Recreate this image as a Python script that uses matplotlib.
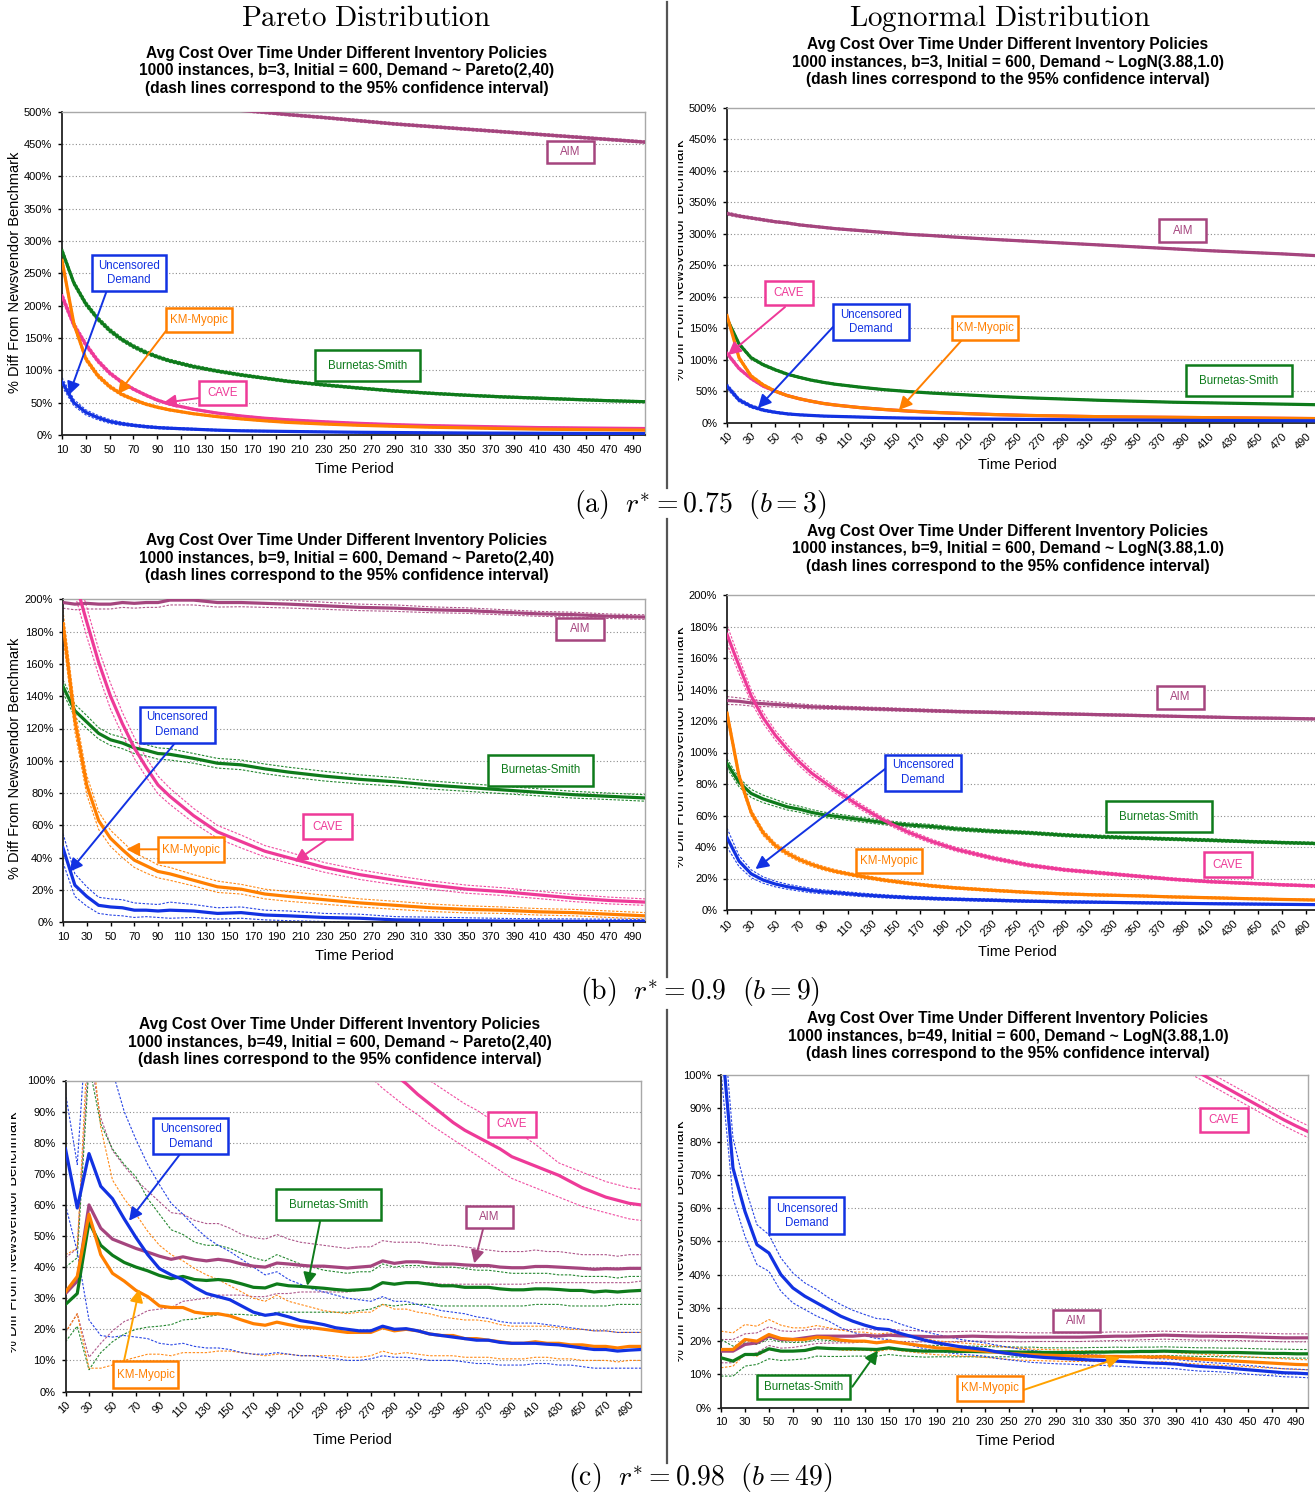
import numpy as np
import matplotlib
matplotlib.use('Agg')
import matplotlib.pyplot as plt
from matplotlib.path import Path
from matplotlib.lines import Line2D
from matplotlib.transforms import Bbox, TransformedBbox

plt.rcParams['font.family'] = ['Liberation Sans', 'DejaVu Sans']
plt.rcParams['mathtext.fontset'] = 'cm'

# ---------------------------------------------------------------- data
# coarse time grid used for the smooth panels (a), (b)
XS = [10, 20, 30, 40, 50, 60, 70, 80, 90, 100, 120, 140, 160, 180, 200,
      230, 260, 290, 320, 350, 380, 410, 440, 470, 500]
# full time grid used for panels (c)
XF = [10, 20, 30, 40, 50, 60, 70, 80, 90, 100, 110, 120, 130, 140, 150, 160, 170,
      180, 190, 200, 210, 220, 230, 240, 250, 260, 270, 280, 290, 300, 310, 320,
      330, 340, 350, 360, 370, 380, 390, 400, 410, 420, 430, 440, 450, 460, 470,
      480, 490, 500]
XTICKS = [10, 30, 50, 70, 90, 110, 130, 150, 170, 190, 210, 230, 250, 270, 290,
          310, 330, 350, 370, 390, 410, 430, 450, 470, 490]

# Panel 1: Pareto, b=3  (mean, CI half width)
P1_AIM = [None] * 12 + [502, 499, 495.5, 491, 486, 481, 477, 473, 469, 465, 461, 457, 453]
P1_AIM_CI = [None] * 12 + [2, 2, 2, 2, 2, 2, 2, 2, 2, 2, 2, 2, 2]
P1_BS = [285, 235, 203, 180, 162, 148, 137, 128, 121, 115, 106, 99, 93, 88, 83,
         77.5, 72.5, 68, 64.5, 61.5, 59, 57, 55, 53, 51.5]
P1_BS_CI = [5, 4, 4, 3.5, 3.5, 3, 3, 3, 2.5, 2.5, 2.5, 2.2, 2.2, 2, 2, 2, 1.8,
            1.8, 1.8, 1.7, 1.7, 1.6, 1.6, 1.5, 1.5]
P1_CAVE = [215, 170, 140, 115, 96, 82, 71, 62, 54, 48, 40, 34, 29.5, 26, 23.5,
           20.5, 18, 16, 14.5, 13.5, 12.5, 11.5, 11, 10.5, 10]
P1_CAVE_CI = [6, 5, 4, 3.5, 3, 2.5, 2.2, 2, 1.8, 1.6, 1.4, 1.2, 1.1, 1, 1, 0.9,
              0.8, 0.8, 0.7, 0.7, 0.6, 0.6, 0.6, 0.5, 0.5]
P1_KM = [270, 172, 118, 92, 75, 63, 55, 48, 43, 39, 33, 28.5, 25, 22, 19.5, 17,
         15, 13.5, 12, 11, 10, 9, 8.5, 8, 7.5]
P1_KM_CI = [6, 5, 4, 3.5, 3, 2.5, 2.2, 2, 1.8, 1.6, 1.4, 1.2, 1.1, 1, 1, 0.9,
            0.8, 0.8, 0.7, 0.7, 0.6, 0.6, 0.6, 0.5, 0.5]
P1_UNC = [82, 50, 35, 27, 21, 17.5, 15, 13, 11.5, 10.5, 9, 7.5, 6.5, 6, 5.5, 4.8,
          4.2, 3.8, 3.4, 3.1, 2.9, 2.7, 2.5, 2.3, 2.2]
P1_UNC_CI = [7, 5, 4, 3.5, 3, 2.5, 2, 2, 1.8, 1.6, 1.4, 1.2, 1, 1, 0.9, 0.8, 0.8,
             0.7, 0.7, 0.6, 0.6, 0.6, 0.5, 0.5, 0.5]

# Panel 2: Lognormal, b=3
P2_AIM = [332, 328, 325, 322, 319, 317, 314, 312, 310, 308, 305, 302, 299, 297,
          294.5, 291, 288, 285, 282, 279, 276, 273, 270.5, 268, 265]
P2_AIM_CI = [2.5, 2.2, 2, 2, 1.8, 1.8, 1.6, 1.6, 1.5, 1.5, 1.5, 1.4, 1.4, 1.4,
             1.3, 1.3, 1.3, 1.2, 1.2, 1.2, 1.2, 1.2, 1.1, 1.1, 1.1]
P2_BS = [165, 125, 103, 92, 84, 77, 72, 67.5, 64, 61, 56.5, 52.5, 49.5, 47, 45,
         42, 39.5, 37.5, 35.5, 34, 32.5, 31.5, 30.5, 29.5, 28.5]
P2_BS_CI = [3, 2.5, 2.2, 2, 1.8, 1.7, 1.6, 1.5, 1.4, 1.3, 1.2, 1.1, 1.1, 1, 1,
            0.9, 0.9, 0.9, 0.8, 0.8, 0.8, 0.8, 0.7, 0.7, 0.7]
P2_CAVE = [110, 86, 70, 58, 50, 43, 38, 34, 30.5, 28, 24, 21, 18.5, 16.5, 15, 13,
           11.5, 10.5, 9.5, 9, 8.5, 8, 7.5, 7, 6.5]
P2_CAVE_CI = [3, 2.5, 2, 1.8, 1.6, 1.4, 1.3, 1.2, 1.1, 1, 0.9, 0.8, 0.8, 0.7, 0.7,
              0.6, 0.6, 0.6, 0.5, 0.5, 0.5, 0.5, 0.5, 0.5, 0.5]
P2_KM = [170, 103, 74, 60, 50, 43, 38, 34, 30.5, 28, 24, 21, 18.5, 16.5, 15, 13,
         11.5, 10.5, 9.5, 9, 8.5, 8, 7.5, 7, 6.5]
P2_KM_CI = [4, 3, 2.5, 2, 1.8, 1.6, 1.4, 1.3, 1.2, 1.1, 1, 0.9, 0.8, 0.8, 0.7,
            0.7, 0.6, 0.6, 0.6, 0.5, 0.5, 0.5, 0.5, 0.5, 0.5]
P2_UNC = [58, 36, 26, 20, 16.5, 14, 12.5, 11.5, 10.5, 10, 9, 8, 7.3, 6.8, 6.3,
          5.7, 5.2, 4.8, 4.4, 4.1, 3.8, 3.6, 3.4, 3.2, 3]
P2_UNC_CI = [4, 3, 2.5, 2, 1.6, 1.4, 1.2, 1.1, 1, 1, 0.9, 0.8, 0.8, 0.7, 0.7, 0.6,
             0.6, 0.5, 0.5, 0.5, 0.5, 0.5, 0.4, 0.4, 0.4]

# Panel 3: Pareto, b=9
P3_AIM = [198, 197, 197.5, 197, 197, 198, 197.5, 198, 198, 199.5, 199.5, 198, 198,
          197.5, 197, 196, 195, 194.5, 193.5, 193, 192, 191, 190.5, 189.5, 189]
P3_AIM_CI = [3.5, 3.5, 3.5, 3, 3, 3, 3, 3, 3, 3, 3, 2.8, 2.6, 2.5, 2.4, 2.2, 2, 2,
             1.8, 1.7, 1.6, 1.5, 1.5, 1.4, 1.4]
P3_BS = [146, 131, 124, 117, 113, 111, 108, 106.5, 104.5, 104, 101.5, 98.5, 97.5,
         95, 93, 90.5, 88.5, 87, 85, 83.5, 82, 80.5, 79, 78, 77]
P3_BS_CI = [4, 4, 4, 3.5, 3.5, 3.5, 3.5, 3.5, 3.5, 3.5, 3, 3, 3, 3, 3, 3, 2.8,
            2.6, 2.5, 2.4, 2.3, 2.2, 2.1, 2, 2]
P3_CAVE = [240, 212, 186, 161, 140, 123, 108, 96, 85, 78, 66, 56, 50, 44, 40, 34,
           29.5, 26, 23, 20.5, 19, 17, 15, 13.5, 12.5]
P3_CAVE_CI = [10, 9, 9, 8, 8, 7, 6.5, 6, 5.5, 5, 4.5, 4, 4, 3.5, 3.5, 3, 3, 2.8,
              2.6, 2.5, 2.4, 2.3, 2.2, 2.1, 2]
P3_KM = [185, 125, 85, 63, 52, 45, 38.5, 35, 31.5, 30, 26, 22, 20.5, 17.5, 16, 14,
         12, 10.5, 9, 8, 7.5, 6.5, 6, 5, 4]
P3_KM_CI = [8, 7, 6, 5.5, 5, 5, 4.5, 4.5, 4, 4, 3.5, 3.5, 3, 3, 3, 2.8, 2.5, 2.5,
            2.3, 2.2, 2, 2, 2, 2, 2]
P3_UNC = [46, 23, 16, 10.5, 9.5, 9, 7.5, 7.5, 7, 7.5, 7, 5.5, 6, 4.5, 4, 3, 2.5,
          1.5, 1.2, 1, 0.8, 0.7, 0.6, 0.5, 0.5]
P3_UNC_CI = [9, 7, 6, 5, 5, 5, 4.5, 4, 4, 5, 4, 3.5, 3.5, 3, 3, 2.5, 2.5, 2, 2,
             1.8, 1.6, 1.5, 1.5, 1.4, 1.3]

# Panel 4: Lognormal, b=9
P4_AIM = [133, 132.5, 131.5, 131, 130.5, 130, 129.5, 129, 128.7, 128.5, 128, 127.5,
          127, 126.5, 126, 125.5, 125, 124.5, 124, 123.5, 123, 122.5, 122, 121.7, 121.3]
P4_AIM_CI = [2.5, 2.2, 2, 1.8, 1.6, 1.5, 1.4, 1.3, 1.2, 1.1, 1, 1, 0.9, 0.9, 0.8,
             0.8, 0.8, 0.7, 0.7, 0.7, 0.6, 0.6, 0.6, 0.6, 0.6]
P4_BS = [93, 81, 74, 70.5, 68, 65.5, 64, 62, 60.5, 59.5, 57.5, 55.5, 54, 53, 51.5,
         50, 49, 47.5, 46.5, 45.7, 45, 44.3, 43.5, 42.8, 42.2]
P4_BS_CI = [3, 2.8, 2.6, 2.4, 2.2, 2, 1.9, 1.8, 1.7, 1.6, 1.5, 1.4, 1.3, 1.3, 1.2,
            1.1, 1, 1, 1, 0.9, 0.9, 0.9, 0.8, 0.8, 0.8]
P4_CAVE = [175, 155, 136, 122, 111, 102, 94, 87, 81.5, 76, 66, 57, 49.5, 43.5,
           38.5, 33, 28.5, 25.5, 23.5, 21.5, 19.5, 18, 17, 16, 15.2]
P4_CAVE_CI = [6, 5, 4, 3.5, 3, 2.8, 2.6, 2.4, 2.2, 2, 1.8, 1.6, 1.5, 1.4, 1.3,
              1.2, 1.1, 1, 1, 0.9, 0.9, 0.8, 0.8, 0.8, 0.8]
P4_KM = [125, 85, 62, 49, 41, 36, 32, 29, 26.5, 24.5, 21.5, 19, 17, 15.3, 14, 12.5,
         11.2, 10.2, 9.5, 9, 8.3, 7.8, 7.2, 6.7, 6.3]
P4_KM_CI = [3, 2.5, 2, 1.8, 1.6, 1.5, 1.4, 1.3, 1.2, 1.1, 1, 1, 0.9, 0.9, 0.8,
            0.8, 0.7, 0.7, 0.7, 0.6, 0.6, 0.6, 0.6, 0.5, 0.5]
P4_UNC = [46, 31, 23, 19, 16.5, 14.8, 13.5, 12.3, 11.5, 11, 9.7, 8.7, 7.9, 7.3,
          6.8, 6.2, 5.6, 5.2, 4.9, 4.6, 4.3, 4, 3.8, 3.6, 3.4]
P4_UNC_CI = [6, 3.5, 2.5, 2, 1.8, 1.6, 1.5, 1.4, 1.3, 1.2, 1.1, 1, 0.9, 0.9, 0.8,
             0.8, 0.7, 0.7, 0.6, 0.6, 0.6, 0.5, 0.5, 0.5, 0.5]

# Panel 5: Pareto, b=49 (mean, lower, upper)
P5_AIM = [31.5, 35.5, 60, 52.5, 49, 47.5, 46, 44.8, 43.5, 42.5, 43.3, 42.5, 42,
          42.5, 42, 41, 40.3, 40, 41.3, 41, 40.6, 40.3, 40.3, 40, 39.7, 40, 40.3,
          42, 41.2, 41.7, 41.7, 41.3, 41, 41, 40.7, 40.5, 40.5, 40, 39.8, 39.8,
          40.2, 40.2, 40, 39.8, 39.6, 39.3, 39.5, 39.4, 39.6, 39.6]
P5_AIM_LO = [19, 25, 11, 15.5, 19.5, 22.5, 24, 26, 26.5, 27, 29, 29.5, 30, 31, 31,
             31, 30.5, 30.5, 31.5, 31.5, 32, 32, 32, 32, 32, 32.5, 33, 35, 34.5,
             35, 35, 35, 34.5, 34.5, 34.5, 34.5, 34.5, 34.5, 34.5, 34.5, 35, 35,
             35, 35, 35, 35, 35, 35, 35, 35.5]
P5_AIM_HI = [43, 46, 110, 88, 77.5, 72.5, 68, 64.5, 61, 57.5, 57, 55, 54, 54, 52.5,
             50.5, 49.5, 49, 50.5, 49, 48, 47.5, 47, 46.5, 46, 46.5, 46.5, 48.5,
             48, 48, 48, 47.5, 47, 47, 46.5, 46, 45.5, 45, 45, 45, 45.5, 45, 45,
             44.5, 44, 44, 44, 43.5, 44, 44]
P5_BS = [28, 31.5, 54.5, 47, 43.8, 41.5, 40, 38.8, 37.3, 36.3, 37, 36, 35.7, 36,
         35.6, 34.6, 33.5, 33.3, 34.6, 34, 33.8, 33.5, 33.2, 32.8, 32.5, 32.7, 33,
         35, 34.5, 35, 35, 34.5, 34, 34, 33.5, 33.5, 33.5, 33, 32.7, 32.7, 33, 33,
         32.8, 32.5, 32.5, 32, 32.3, 32, 32.3, 32.5]
P5_BS_LO = [16, 21, 7, 12.5, 16, 18.5, 20, 20.7, 21, 21.5, 23, 23.3, 24, 24.7,
            24.8, 24.8, 24.5, 24.5, 25.5, 25.5, 25.5, 25.5, 25.5, 25.5, 25.5, 26,
            26.5, 28, 27.5, 28, 28, 28, 27.5, 27.5, 27.5, 27.5, 27.5, 27.5, 27.5,
            27.5, 28, 28, 28, 27.5, 27.5, 27.5, 27.5, 28, 28, 28]
P5_BS_HI = [40, 43, 105, 86, 78, 73, 69, 62, 57, 52, 50.5, 48, 47, 47, 46, 44.5,
            43, 42, 44, 42.5, 41, 40, 39, 38.5, 38, 38.5, 38.5, 41, 40, 40.5, 40.5,
            40, 40, 40, 39.5, 39, 39, 38.5, 38, 38, 38, 38, 37.5, 37.5, 37, 37, 37,
            36.5, 37, 37]
P5_CAVE = [None] * 27 + [105.5, 102, 99, 95.5, 92.5, 89.5, 86.5, 84, 82, 80, 78,
                         75.5, 74, 72.5, 71, 69.5, 67.5, 65.5, 64, 62.5, 61.5, 60.5, 60]
P5_CAVE_LO = [None] * 25 + [104, 101, 97.5, 94.5, 91.5, 89, 86, 83.5, 81, 78.5, 76,
                            73.5, 71, 68.5, 67, 65.5, 64, 62.5, 61, 59.5, 58.5,
                            57.5, 56.5, 55.5, 55]
P5_CAVE_HI = [None] * 30 + [103, 100, 97.5, 95, 92.5, 90.5, 88, 86, 84, 82, 79.5,
                            76.5, 73.5, 72, 70.5, 69, 67.5, 66.5, 65.5, 65]
P5_KM = [32, 37, 57, 44, 38, 35.5, 32.5, 30.5, 27.5, 27, 27, 25.5, 25, 25, 24.3,
         23, 21.8, 21.3, 22.3, 21.5, 20.8, 20.5, 20, 19.5, 19, 19, 19, 20.5, 19.5,
         20, 19.5, 18.5, 18, 18, 17, 17, 16.5, 16, 15.5, 15.5, 16, 15.5, 15.5, 15,
         15, 14.5, 14.5, 14, 14.5, 14.5]
P5_KM_LO = [19, 25, 7.5, 7.5, 8.5, 10, 11, 12, 12, 11.5, 12.5, 12.5, 12.5, 13, 13,
            12.5, 12, 11.5, 12, 12, 11.5, 11.5, 11.5, 11.5, 11, 11, 11.5, 13, 12,
            12.5, 12, 11.5, 11.5, 11.5, 11, 11, 11, 10.5, 10.5, 10.5, 11, 11, 10.5,
            10.5, 10, 10, 10, 9.5, 10, 10]
P5_KM_HI = [44, 46, 120, 85, 68, 62, 57, 51.5, 47, 44, 42, 39.5, 37.5, 36, 34, 32,
            30, 29, 31, 29, 28, 27, 26, 25.5, 25, 25.5, 25.5, 28, 26.5, 26.5, 25.5,
            25, 24, 23.5, 23, 23, 22.5, 21.5, 21, 21, 21, 21, 20.5, 20, 20, 19.5,
            19.5, 19, 19, 19]
P5_UNC = [78, 59, 76.5, 66, 62, 55.5, 49.5, 44, 39.5, 37.5, 36, 33.5, 31.5, 30.5,
          29.5, 27.5, 25.5, 24.5, 25, 24, 22.8, 22.2, 21.5, 20.5, 20, 19.5, 19.5,
          21, 20, 20.2, 19.5, 18.5, 18, 17.5, 17, 16.5, 16.5, 15.8, 15.5, 15.5,
          15.5, 15.2, 15, 14.5, 14, 13.5, 13.5, 13, 13.3, 13.5]
P5_UNC_LO = [60, 45, 23, 18, 17.5, 18, 17.5, 17, 15.5, 15, 15.5, 14.5, 14, 14,
             13.5, 12.5, 12, 12, 12.5, 12, 11.5, 11.5, 11, 10.5, 10, 10, 10.5, 11.5,
             11, 11, 10.5, 10, 10, 10, 9.5, 9, 9, 8.5, 8.5, 8.5, 9, 9, 8.5, 8.5, 8,
             7.5, 7.5, 7.5, 7.5, 7.5]
P5_UNC_HI = [96, 73, 130, 115, 103, 90, 81, 73, 66.5, 60.5, 57, 53, 49.5, 47, 45,
             42.5, 40, 37.5, 38.5, 36, 34.5, 33, 32, 31, 30, 29.5, 29, 30.5, 29, 29,
             28, 27, 26, 25.5, 25, 24, 23.5, 22.5, 22, 22, 22, 21.5, 21, 20.5, 20,
             19.5, 19.5, 19, 19, 19]

# Panel 6: Lognormal, b=49 (mean, CI half width)
P6_AIM = [17, 17, 19, 19.5, 21.5, 20.5, 20.5, 21, 21.5, 21.5, 21.5, 21.5, 21.8,
          21.5, 21.8, 21.6, 21.5, 21.4, 21.3, 21.3, 21.4, 21.5, 21.4, 21.3, 21.3,
          21.2, 21.2, 21.2, 21.2, 21.2, 21.2, 21.3, 21.4, 21.5, 21.5, 21.6, 21.7,
          21.8, 21.7, 21.6, 21.5, 21.5, 21.4, 21.4, 21.3, 21.2, 21.1, 21.0, 21.0, 21.0]
P6_AIM_CI = [3.5, 3.5, 3.2, 3, 2.8, 2.6, 2.4, 2.3, 2.2, 2.1, 2, 2, 1.9, 1.8, 1.8,
             1.7, 1.7, 1.6, 1.6, 1.5, 1.5, 1.5, 1.4, 1.4, 1.4, 1.4, 1.3, 1.3, 1.3,
             1.3, 1.3, 1.3, 1.3, 1.3, 1.2, 1.2, 1.2, 1.2, 1.2, 1.2, 1.2, 1.2, 1.2,
             1.2, 1.2, 1.2, 1.2, 1.2, 1.2, 1.2]
P6_BS = [15, 14, 16, 16, 17.7, 17, 17, 17.2, 18, 17.8, 17.7, 17.7, 17.6, 17.5, 18,
         17.5, 17.2, 17, 17, 17, 16.9, 16.9, 16.8, 16.8, 16.8, 16.7, 16.7, 16.6,
         16.6, 16.6, 16.6, 16.7, 16.7, 16.8, 16.8, 16.9, 16.9, 17, 16.9, 16.8, 16.7,
         16.7, 16.6, 16.6, 16.5, 16.4, 16.3, 16.3, 16.2, 16.2]
P6_BS_CI = [5.5, 4.5, 3.5, 3, 3, 2.8, 2.6, 2.5, 2.5, 2.4, 2.3, 2.2, 2.1, 2, 2, 1.9,
            1.8, 1.8, 1.7, 1.7, 1.6, 1.6, 1.6, 1.5, 1.5, 1.5, 1.5, 1.4, 1.4, 1.4,
            1.4, 1.4, 1.4, 1.4, 1.3, 1.3, 1.3, 1.3, 1.3, 1.3, 1.3, 1.3, 1.3, 1.3,
            1.3, 1.3, 1.3, 1.3, 1.3, 1.3]
P6_CAVE = [None] * 39 + [102.5, 100.5, 98.5, 96.5, 94.5, 92.5, 90.5, 88.5, 86.5, 84.7, 83]
P6_CAVE_CI = [None] * 39 + [1.8, 1.8, 1.8, 1.8, 1.8, 1.8, 1.8, 1.8, 1.8, 1.8, 1.8]
P6_KM = [17.5, 17.5, 20.5, 20, 22, 20.8, 20.5, 20.5, 21.2, 21, 20.3, 20, 20, 19.5,
         20, 19.5, 19, 18.5, 18, 17.8, 17.5, 17.3, 17, 16.7, 16.3, 16.1, 15.9, 15.8,
         15.7, 15.6, 15.5, 15.5, 15.4, 15.4, 15.3, 15.3, 15.2, 15.3, 15.0, 14.8,
         14.6, 14.4, 14.2, 14.0, 13.8, 13.6, 13.4, 13.2, 13.0, 12.9]
P6_KM_CI = [5.5, 5, 4.5, 4.5, 4.5, 4, 3.5, 3.5, 3.5, 3, 3, 2.8, 2.7, 2.6, 2.5,
            2.4, 2.3, 2.2, 2.1, 2, 2, 1.9, 1.9, 1.8, 1.8, 1.8, 1.7, 1.7, 1.7, 1.7,
            1.6, 1.6, 1.6, 1.6, 1.6, 1.6, 1.5, 1.5, 1.5, 1.5, 1.5, 1.5, 1.5, 1.5,
            1.5, 1.5, 1.5, 1.5, 1.5, 1.5]
P6_UNC = [113, 72, 59, 49, 46.5, 40, 36, 33.5, 31.5, 29.5, 27.5, 26, 24.8, 23.8,
          23.5, 22.3, 21.3, 20.3, 19.5, 18.9, 18.3, 17.9, 17.5, 16.8, 16.3, 15.8,
          15.4, 15.1, 14.9, 14.7, 14.5, 14.3, 14.2, 14.0, 13.8, 13.6, 13.4, 13.3,
          13.1, 12.7, 12.4, 12.2, 12.0, 11.7, 11.4, 11.1, 10.8, 10.5, 10.4, 10.2]
P6_UNC_CI = [12, 9, 7.5, 6, 5.5, 5, 4.5, 4, 4, 3.5, 3.5, 3.3, 3.2, 3, 3, 2.8, 2.7,
             2.6, 2.5, 2.4, 2.2, 2.1, 2, 2, 1.9, 1.8, 1.8, 1.7, 1.7, 1.6, 1.6, 1.6,
             1.5, 1.5, 1.5, 1.5, 1.4, 1.4, 1.4, 1.4, 1.4, 1.3, 1.3, 1.3, 1.3, 1.3,
             1.2, 1.2, 1.2, 1.2]

TITLE_L1 = "Avg Cost Over Time Under Different Inventory Policies"
TITLE_L3 = "(dash lines correspond to the 95% confidence interval)"
TITLE_L2 = {
    1: "1000 instances, b=3, Initial = 600, Demand ~ Pareto(2,40)",
    2: "1000 instances, b=3, Initial = 600, Demand ~ LogN(3.88,1.0)",
    3: "1000 instances, b=9, Initial = 600, Demand ~ Pareto(2,40)",
    4: "1000 instances, b=9, Initial = 600, Demand ~ LogN(3.88,1.0)",
    5: "1000 instances, b=49, Initial = 600, Demand ~ Pareto(2,40)",
    6: "1000 instances, b=49, Initial = 600, Demand ~ LogN(3.88,1.0)",
}
YLABEL = "% Diff From Newsvendor Benchmark"

# ---------------------------------------------------------------- style
COL = {'AIM': '#A5457E', 'BS': '#0E7B1B', 'CAVE': '#EE3A98',
       'KM': '#FF7F00', 'UNC': '#1232E2'}
GOLD = '#FFA200'
NAMES = {'AIM': 'AIM', 'BS': 'Burnetas-Smith', 'CAVE': 'CAVE',
         'KM': 'KM-Myopic', 'UNC': 'Uncensored\nDemand'}

W, H = 1315, 1499
fig = plt.figure(figsize=(W / 100, H / 100), dpi=100)
fig.patch.set_facecolor('white')


def fx(px):
    return px / W


def fy(py):
    return 1 - py / H


def make_axes(l, t, r, b):
    return fig.add_axes([fx(l), fy(b), (r - l) / W, (b - t) / H])


def fixed_box(wpx, hpx):
    def f(x0, y0, width, height, mutation_size):
        cx = x0 + width / 2
        cy = y0 + height / 2
        v = [(cx - wpx / 2, cy - hpx / 2), (cx + wpx / 2, cy - hpx / 2),
             (cx + wpx / 2, cy + hpx / 2), (cx - wpx / 2, cy + hpx / 2),
             (cx - wpx / 2, cy - hpx / 2)]
        return Path(v, closed=True)
    return f


def style_axes(ax, ymax, ystep, rotate):
    ax.set_xlim(10, 500)
    ax.set_ylim(0, ymax)
    yt = list(np.arange(0, ymax + 0.001, ystep))
    ax.set_yticks(yt)
    ax.set_yticklabels(['%d%%' % round(v) for v in yt])
    ax.set_xticks(XTICKS)
    if rotate:
        ax.set_xticklabels([str(v) for v in XTICKS], rotation=45, ha='right',
                           va='top', rotation_mode='anchor')
        ax.tick_params(axis='x', pad=3)
    else:
        ax.set_xticklabels([str(v) for v in XTICKS])
        ax.tick_params(axis='x', pad=4)
    ax.tick_params(axis='both', direction='out', length=3, width=1,
                   labelsize=8, colors='black')
    ax.tick_params(axis='y', pad=4)
    for v in yt[1:-1]:
        ax.axhline(v, color='#8c8c8c', lw=0.8, ls=(0, (1, 2)), zorder=0)
    for s in ['top', 'right']:
        ax.spines[s].set_color('#a8a8a8')
        ax.spines[s].set_linewidth(1.0)
    for s in ['left', 'bottom']:
        ax.spines[s].set_color('#222222')
        ax.spines[s].set_linewidth(1.3)
    ax.set_facecolor('white')


def draw_series(ax, x, key, mean, lo, hi):
    c = COL[key]
    xa = np.array(x, dtype=float)
    for arr in (lo, hi):
        ax.plot(xa, arr, color=c, lw=0.8, ls=(0, (2.2, 1.4)), alpha=0.9, zorder=2)
    ax.plot(xa, mean, color=c, lw=2.3, zorder=4, solid_joinstyle='round')


def draw_hw(ax, x, key, mean, hw):
    m = np.array(mean, dtype=float)
    h = np.array(hw, dtype=float)
    draw_series(ax, x, key, m, m - h, m + h)


def add_box(ax, key, x, y, w, h, fs=8.3):
    ax.text(x, y, NAMES[key], color=COL[key], fontsize=fs, ha='center', va='center',
            linespacing=1.25, zorder=10,
            bbox=dict(boxstyle=fixed_box(w, h), fc='white', ec=COL[key], lw=1.8))


def add_arrow(ax, tail, head, color):
    ax.annotate('', xy=head, xytext=tail, xycoords='data', textcoords='data',
                annotation_clip=False, zorder=9,
                arrowprops=dict(arrowstyle='-|>,head_length=0.55,head_width=0.28',
                                color=color, lw=1.4, shrinkA=0, shrinkB=0,
                                mutation_scale=14))


def fig_text(px, py, s, **kw):
    return fig.text(fx(px), fy(py), s, **kw)


def title(px, py, n):
    fig_text(px, py, TITLE_L1 + "\n" + TITLE_L2[n] + "\n" + TITLE_L3,
             ha='center', va='center', fontsize=11.2, fontweight='bold',
             linespacing=1.2)


def ylabel(px, py, clip_left=None):
    t = fig_text(px, py, YLABEL, rotation=90, ha='center', va='center',
                 fontsize=10.5)
    if clip_left is not None:
        t.set_clip_box(TransformedBbox(Bbox.from_extents(fx(clip_left), 0, 1, 1),
                                       fig.transFigure))
        t.set_clip_on(True)


def xlabel(px, py):
    fig_text(px, py, "Time Period", ha='center', va='center', fontsize=10.5)


# ---------------------------------------------------------------- panel 1
ax1 = make_axes(62, 111.7, 645, 435)
style_axes(ax1, 500, 50, False)
draw_hw(ax1, XS, 'AIM', P1_AIM, P1_AIM_CI)
draw_hw(ax1, XS, 'BS', P1_BS, P1_BS_CI)
draw_hw(ax1, XS, 'CAVE', P1_CAVE, P1_CAVE_CI)
draw_hw(ax1, XS, 'KM', P1_KM, P1_KM_CI)
draw_hw(ax1, XS, 'UNC', P1_UNC, P1_UNC_CI)
add_arrow(ax1, (47.8, 224), (15.9, 62), COL['UNC'])
add_arrow(ax1, (97.4, 161), (57, 63.4), COL['KM'])
add_arrow(ax1, (125, 57.2), (94.9, 49.5), COL['CAVE'])
add_box(ax1, 'AIM', 437, 437, 47, 22)
add_box(ax1, 'UNC', 66.3, 251, 74, 36)
add_box(ax1, 'KM', 125, 178, 66, 24)
add_box(ax1, 'CAVE', 145, 65, 47, 24)
add_box(ax1, 'BS', 267, 107, 105, 31)
title(347, 71, 1)
ylabel(15.5, 272)
xlabel(354, 469)

# ---------------------------------------------------------------- panel 2
ax2 = make_axes(727, 107.7, 1318, 422.7)
style_axes(ax2, 500, 50, True)
draw_hw(ax2, XS, 'AIM', P2_AIM, P2_AIM_CI)
draw_hw(ax2, XS, 'BS', P2_BS, P2_BS_CI)
draw_hw(ax2, XS, 'CAVE', P2_CAVE, P2_CAVE_CI)
draw_hw(ax2, XS, 'KM', P2_KM, P2_KM_CI)
draw_hw(ax2, XS, 'UNC', P2_UNC, P2_UNC_CI)
add_arrow(ax2, (58.1, 183.6), (10.8, 107.5), COL['CAVE'])
add_arrow(ax2, (97.9, 152), (35.7, 23.3), COL['UNC'])
add_arrow(ax2, (204.8, 131.3), (152.6, 20.2), COL['KM'])
add_box(ax2, 'AIM', 388, 304.3, 47, 23)
add_box(ax2, 'CAVE', 61.4, 205.9, 48, 24)
add_box(ax2, 'UNC', 129.4, 159.9, 76, 36)
add_box(ax2, 'KM', 223.5, 150.3, 66, 24)
add_box(ax2, 'BS', 434.5, 66.2, 106, 31)
title(1008, 62, 2)
ylabel(680, 260, clip_left=677.5)
xlabel(1017, 465)

# ---------------------------------------------------------------- panel 3
ax3 = make_axes(63, 599.3, 645, 922.3)
style_axes(ax3, 200, 20, False)
draw_hw(ax3, XS, 'AIM', P3_AIM, P3_AIM_CI)
draw_hw(ax3, XS, 'BS', P3_BS, P3_BS_CI)
draw_hw(ax3, XS, 'CAVE', P3_CAVE, P3_CAVE_CI)
draw_hw(ax3, XS, 'KM', P3_KM, P3_KM_CI)
draw_hw(ax3, XS, 'UNC', P3_UNC, P3_UNC_CI)
add_arrow(ax3, (104, 110.8), (15.4, 31.3), COL['UNC'])
add_arrow(ax3, (231.6, 51), (205, 37.5), COL['CAVE'])
add_arrow(ax3, (89.8, 45.2), (63.3, 45.2), COL['KM'])
add_box(ax3, 'AIM', 445.3, 181.6, 48, 22)
add_box(ax3, 'UNC', 106, 122.4, 75, 36)
add_box(ax3, 'BS', 412.4, 94, 105, 31)
add_box(ax3, 'CAVE', 233.1, 59.2, 49, 25)
add_box(ax3, 'KM', 117.8, 44.8, 66, 25)
title(347, 558, 3)
ylabel(15.5, 758)
xlabel(354, 956)

# ---------------------------------------------------------------- panel 4
ax4 = make_axes(727, 595, 1318, 910)
style_axes(ax4, 200, 20, True)
draw_hw(ax4, XS, 'AIM', P4_AIM, P4_AIM_CI)
draw_hw(ax4, XS, 'BS', P4_BS, P4_BS_CI)
draw_hw(ax4, XS, 'CAVE', P4_CAVE, P4_CAVE_CI)
draw_hw(ax4, XS, 'KM', P4_KM, P4_KM_CI)
draw_hw(ax4, XS, 'UNC', P4_UNC, P4_UNC_CI)
add_arrow(ax4, (141.8, 90), (33.6, 26), COL['UNC'])
add_box(ax4, 'AIM', 385.6, 135.2, 47, 23)
add_box(ax4, 'UNC', 172.5, 87.3, 76, 36)
add_box(ax4, 'BS', 368.2, 59.2, 106, 31)
add_box(ax4, 'KM', 144, 30.9, 66, 24)
add_box(ax4, 'CAVE', 425.4, 28.6, 48, 25)
title(1008, 549, 4)
ylabel(680, 747, clip_left=677.5)
xlabel(1017, 952)

# ---------------------------------------------------------------- panel 5
ax5 = make_axes(65.5, 1080.5, 641, 1391.5)
style_axes(ax5, 100, 10, True)
draw_series(ax5, XF, 'AIM', np.array(P5_AIM, float), np.array(P5_AIM_LO, float),
            np.array(P5_AIM_HI, float))
draw_series(ax5, XF, 'BS', np.array(P5_BS, float), np.array(P5_BS_LO, float),
            np.array(P5_BS_HI, float))
draw_series(ax5, XF, 'CAVE', np.array(P5_CAVE, float), np.array(P5_CAVE_LO, float),
            np.array(P5_CAVE_HI, float))
draw_series(ax5, XF, 'KM', np.array(P5_KM, float), np.array(P5_KM_LO, float),
            np.array(P5_KM_HI, float))
draw_series(ax5, XF, 'UNC', np.array(P5_UNC, float), np.array(P5_UNC_LO, float),
            np.array(P5_UNC_HI, float))
add_arrow(ax5, (107.5, 76.3), (64.1, 54.9), COL['UNC'])
add_arrow(ax5, (226.7, 54.6), (215.9, 34), COL['BS'])
add_arrow(ax5, (365.7, 52.5), (358, 41.2), COL['AIM'])
add_arrow(ax5, (59.8, 9.8), (72.8, 32.9), GOLD)
add_box(ax5, 'UNC', 116.7, 82, 75, 36)
add_box(ax5, 'BS', 234.3, 60, 105, 31)
add_box(ax5, 'AIM', 370.6, 56.2, 47, 22)
add_box(ax5, 'CAVE', 390.1, 86, 48, 25)
add_box(ax5, 'KM', 78.4, 5.4, 65, 27)
title(340, 1042, 5)
ylabel(13.5, 1232, clip_left=10.5)
xlabel(352, 1440)

# ---------------------------------------------------------------- panel 6
ax6 = make_axes(721, 1075, 1308, 1407.7)
style_axes(ax6, 100, 10, False)
draw_hw(ax6, XF, 'AIM', P6_AIM, P6_AIM_CI)
draw_hw(ax6, XF, 'BS', P6_BS, P6_BS_CI)
draw_hw(ax6, XF, 'CAVE', P6_CAVE, P6_CAVE_CI)
draw_hw(ax6, XF, 'KM', P6_KM, P6_KM_CI)
draw_hw(ax6, XF, 'UNC', P6_UNC, P6_UNC_CI)
add_arrow(ax6, (119.6, 6.3), (141, 17.2), COL['BS'])
add_arrow(ax6, (262.3, 5.3), (343, 15.1), GOLD)
add_box(ax6, 'UNC', 81.6, 57.7, 75, 37)
add_box(ax6, 'BS', 78.7, 6.1, 93, 24)
add_box(ax6, 'AIM', 306.4, 26.1, 47, 22)
add_box(ax6, 'CAVE', 429.9, 86.4, 48, 24)
add_box(ax6, 'KM', 234.6, 5.9, 66, 25)
title(1008, 1036, 6)
ylabel(680, 1241, clip_left=677.5)
xlabel(1015, 1441)

# ---------------------------------------------------------------- headers, captions, dividers
fig_text(366, 18, r'$\mathrm{Pareto\ Distribution}$', ha='center', va='center', fontsize=21)
fig_text(1000, 18, r'$\mathrm{Lognormal\ Distribution}$', ha='center', va='center', fontsize=21)
fig_text(700, 505, r'$\mathrm{(a)}\ \ r^{*} = 0.75\ \ (b = 3)$', ha='center', va='center', fontsize=20)
fig_text(700, 992, r'$\mathrm{(b)}\ \ r^{*} = 0.9\ \ (b = 9)$', ha='center', va='center', fontsize=20)
fig_text(700, 1478, r'$\mathrm{(c)}\ \ r^{*} = 0.98\ \ (b = 49)$', ha='center', va='center', fontsize=20)
for y0, y1 in [(2, 488), (519, 977), (1010, 1463)]:
    fig.add_artist(Line2D([fx(667), fx(667)], [fy(y0), fy(y1)], lw=1.6, color='#555555'))

fig.savefig('out.png', dpi=100, facecolor='white')
